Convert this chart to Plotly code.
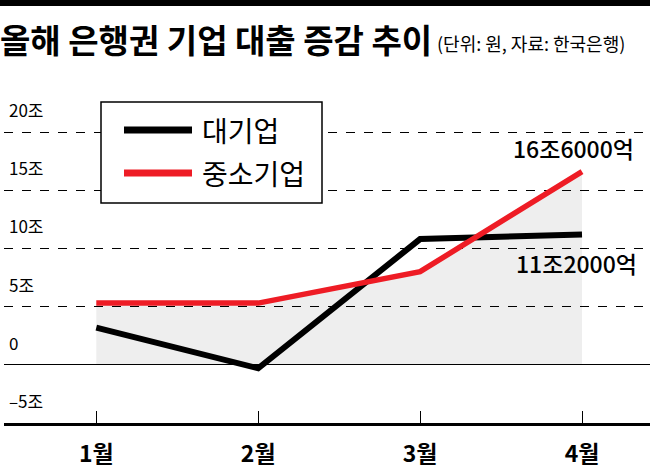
import plotly.graph_objects as go

# data (단위: 조원)
months = ["1월", "2월", "3월", "4월"]
large_firms = [3.2, -0.3, 10.8, 11.2]
sme_firms = [5.3, 5.3, 8.0, 16.6]
series_names = ["대기업", "중소기업"]
end_labels = ["11조2000억", "16조6000억"]
y_ticks = [-5, 0, 5, 10, 15, 20]
y_tick_text = ["–5조", "0", "5조", "10조", "15조", "20조"]

title_text = "올해 은행권 기업 대출 증감 추이"
subtitle_text = "(단위: 원, 자료: 한국은행)"

FONT = "Noto Sans CJK KR"
RED = "#ee1c25"

# canvas / margins in pixels
W, H = 650, 469
L, R, T, B = 4, 0, 100, 46
plot_w = W - L - R
plot_h = H - T - B


def px_x(px):
    return (px - L) / plot_w


def px_y(py):
    return (H - B - py) / plot_h


fig = go.Figure()

# gray area under the 중소기업 line
fig.add_trace(go.Scatter(
    x=months, y=sme_firms, mode="lines", fill="tozeroy",
    fillcolor="rgba(0,0,0,0.065)", line=dict(width=0),
    hoverinfo="skip", showlegend=False,
))
fig.add_trace(go.Scatter(
    x=months, y=large_firms, mode="lines", name=series_names[0],
    line=dict(color="black", width=6),
))
fig.add_trace(go.Scatter(
    x=months, y=sme_firms, mode="lines", name=series_names[1],
    line=dict(color=RED, width=5.5),
))

annotations = []

# y tick labels sit just above each grid line
for v, t in zip(y_ticks, y_tick_text):
    annotations.append(dict(
        x=px_x(7), xref="paper", y=v, yref="y", text=t,
        xanchor="left", yanchor="bottom", yshift=8, showarrow=False,
        font=dict(family=FONT, size=17, color="black"),
    ))

# end-of-line value labels
annotations.append(dict(
    x=months[-1], y=sme_firms[-1], text=end_labels[1], showarrow=False,
    xanchor="right", yanchor="bottom", xshift=54, yshift=5,
    font=dict(family=FONT, size=23, color="black", weight=500),
))
annotations.append(dict(
    x=months[-1], y=large_firms[-1], text=end_labels[0], showarrow=False,
    xanchor="right", yanchor="top", xshift=57, yshift=-10,
    font=dict(family=FONT, size=23, color="black", weight=500),
))

# subtitle next to title
annotations.append(dict(
    x=px_x(435), xref="paper", y=px_y(43), yref="paper", text=subtitle_text,
    xanchor="left", yanchor="middle", showarrow=False,
    font=dict(family=FONT, size=18, color="black"),
))

# hand-drawn legend text
for name, py in zip(series_names, [130, 173]):
    annotations.append(dict(
        x=px_x(200), xref="paper", y=px_y(py), yref="paper", text=name,
        xanchor="left", yanchor="middle", showarrow=False,
        font=dict(family=FONT, size=28, color="black"),
    ))

shapes = [
    # black band at the very top
    dict(type="rect", xref="paper", yref="paper",
         x0=px_x(0), x1=px_x(W), y0=px_y(6), y1=px_y(0),
         fillcolor="black", line=dict(width=0), layer="above"),
    # legend box
    dict(type="rect", xref="paper", yref="paper",
         x0=px_x(101), x1=px_x(322), y0=px_y(203), y1=px_y(102),
         fillcolor="white", line=dict(color="black", width=1.5), layer="above"),
    dict(type="line", xref="paper", yref="paper",
         x0=px_x(124), x1=px_x(192), y0=px_y(130), y1=px_y(130),
         line=dict(color="black", width=7), layer="above"),
    dict(type="line", xref="paper", yref="paper",
         x0=px_x(124), x1=px_x(192), y0=px_y(173), y1=px_y(173),
         line=dict(color=RED, width=7), layer="above"),
]

fig.update_layout(
    width=W, height=H,
    margin=dict(l=L, r=R, t=T, b=B),
    paper_bgcolor="white", plot_bgcolor="white",
    showlegend=False,
    title=dict(
        text=title_text, x=0, xref="container", xanchor="left",
        y=1 - 41 / H, yref="container", yanchor="middle",
        font=dict(family=FONT, size=33, color="black", weight="bold"),
    ),
    annotations=annotations,
    shapes=shapes,
)

fig.update_xaxes(
    type="category", range=[-0.57, 3.42],
    showgrid=False, zeroline=False,
    showline=True, linecolor="black", linewidth=3,
    ticks="inside", ticklen=12, tickcolor="black", tickwidth=1,
    ticklabelstandoff=8,
    tickfont=dict(family=FONT, size=23, color="black", weight="bold"),
)
fig.update_yaxes(
    range=[-5, 22.75], tickvals=y_ticks, showticklabels=False,
    showgrid=True, gridcolor="black", gridwidth=1, griddash="dash",
    zeroline=True, zerolinecolor="black", zerolinewidth=1,
    showline=False, ticks="",
)

# page has a default 8px body margin; drop it so the figure fills the window
fig.write_html(
    "out.html",
    config={"displayModeBar": False},
    post_script="document.body.style.margin='0';",
)
